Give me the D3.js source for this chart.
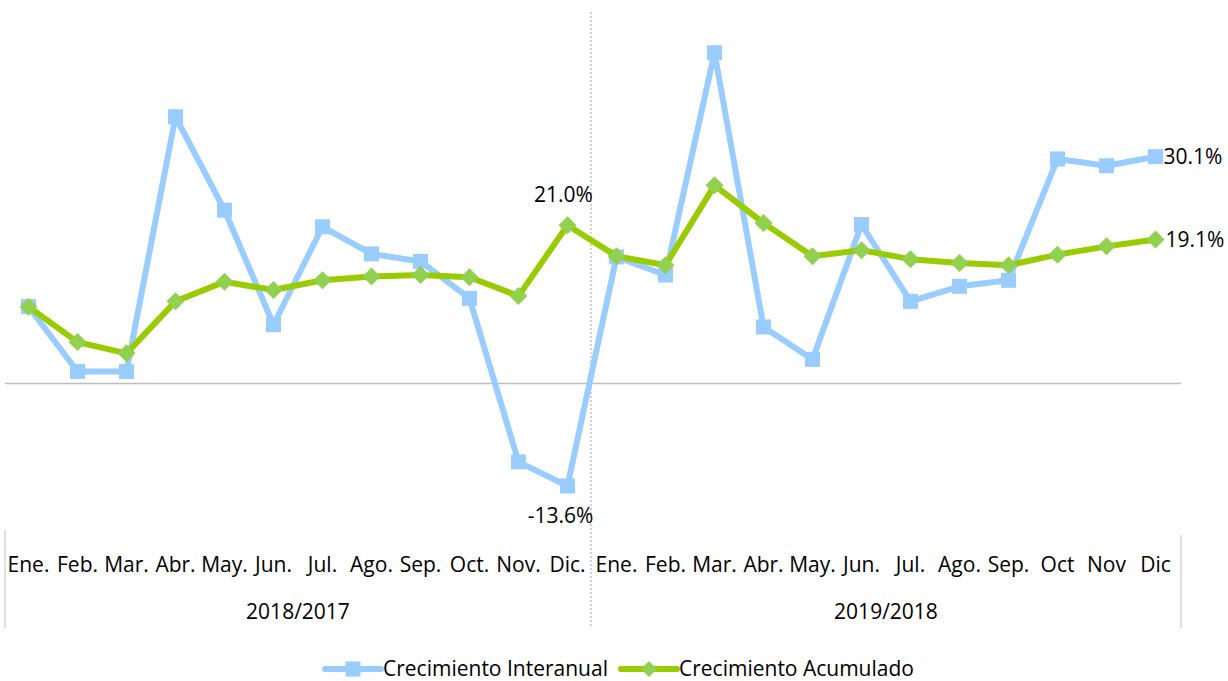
<!DOCTYPE html>
<html>
<head>
<meta charset="utf-8">
<script src="https://cdn.jsdelivr.net/npm/d3@7"></script>
<style>
    html, body { margin: 0; padding: 0; background: #fff; }
    svg { display: block; font-family: "Open Sans", Lato, sans-serif; }
    .zero { stroke: #bfbfbf; stroke-width: 1.5; }
    .sep { stroke: #bfbfbf; stroke-width: 1; }
    .sep-dash { stroke: #a6a6a6; stroke-width: 1; stroke-dasharray: 2, 2; }
    .cat { font-size: 21px; fill: #000; }
    .lbl { font-size: 21px; fill: #000; }
    .leg { font-size: 21px; fill: #000; }
</style>
</head>
<body>
<div id="chart"></div>
<script>
(function (d3) {
    'use strict';

    var months = ['Ene.', 'Feb.', 'Mar.', 'Abr.', 'May.', 'Jun.', 'Jul.', 'Ago.', 'Sep.', 'Oct.', 'Nov.', 'Dic.',
                  'Ene.', 'Feb.', 'Mar.', 'Abr.', 'May.', 'Jun.', 'Jul.', 'Ago.', 'Sep.', 'Oct', 'Nov', 'Dic'];
    var groups = ['2018/2017', '2019/2018'];
    var interanual = [10.2, 1.6, 1.6, 35.4, 23.0, 7.8, 20.8, 17.2, 16.2, 11.3, -10.4, -13.6,
                      16.8, 14.4, 43.9, 7.5, 3.2, 21.1, 10.9, 12.9, 13.7, 29.8, 28.9, 30.1];
    var acumulado = [10.2, 5.5, 4.0, 10.9, 13.5, 12.4, 13.7, 14.2, 14.4, 14.1, 11.6, 21.0,
                     16.9, 15.7, 26.3, 21.3, 16.9, 17.7, 16.5, 16.0, 15.7, 17.1, 18.2, 19.1];
    var seriesNames = ['Crecimiento Interanual', 'Crecimiento Acumulado'];

    var width = 1228, height = 681;
    var blue = '#99ccff', green = '#99cc00', greenMark = '#92d050';

    var svg = d3.select('#chart').append('svg')
        .attr('width', width)
        .attr('height', height)
    ;

    var keys = months.map(function (m, i) { return i; });

    var x = d3.scaleBand()
        .domain(keys)
        .range([4, 1180])
        .padding(0)
    ;

    // 0% sits at 383.5px, about 7.535px per point
    var y = d3.scaleLinear()
        .domain([-20, 50])
        .range([383.5 + 20 * 7.535, 383.5 - 50 * 7.535])
    ;

    var cx = function (d, i) { return x(i) + x.bandwidth() / 2; };

    // zero line
    svg.append('line')
        .attr('class', 'zero')
        .attr('x1', x.range()[0] + 1).attr('x2', x.range()[1] + 1)
        .attr('y1', y(0)).attr('y2', y(0))
    ;

    // dashed divider between the two years
    var mid = x(12);
    svg.append('line')
        .attr('class', 'sep-dash')
        .attr('x1', mid - 1).attr('x2', mid - 1)
        .attr('y1', 12).attr('y2', 628)
    ;

    // category table under the plot
    svg.append('line').attr('class', 'sep')
        .attr('x1', x.range()[0] + 1).attr('x2', x.range()[0] + 1)
        .attr('y1', 530).attr('y2', 628);
    svg.append('line').attr('class', 'sep')
        .attr('x1', x.range()[1] + 1).attr('x2', x.range()[1] + 1)
        .attr('y1', 535).attr('y2', 628);

    svg.append('g').selectAll('text')
        .data(months)
        .join('text')
        .attr('class', 'cat')
        .attr('x', cx)
        .attr('y', 565)
        .attr('dy', '0.35em')
        .attr('text-anchor', 'middle')
        .text(function (d) { return d; })
    ;

    svg.append('g').selectAll('text')
        .data(groups)
        .join('text')
        .attr('class', 'cat')
        .attr('x', function (d, i) { return x(i * 12) + x.bandwidth() * 6; })
        .attr('y', 612)
        .attr('dy', '0.35em')
        .attr('text-anchor', 'middle')
        .text(function (d) { return d; })
    ;

    var line = d3.line()
        .x(cx)
        .y(function (d) { return y(d); })
    ;

    // blue series with squares
    svg.append('path')
        .datum(interanual)
        .attr('fill', 'none')
        .attr('stroke', blue)
        .attr('stroke-width', 6)
        .attr('stroke-linejoin', 'round')
        .attr('d', line)
    ;
    svg.append('g').selectAll('rect')
        .data(interanual)
        .join('rect')
        .attr('x', function (d, i) { return cx(d, i) - 7.5; })
        .attr('y', function (d) { return y(d) - 7.5; })
        .attr('width', 15)
        .attr('height', 15)
        .attr('fill', blue)
    ;

    // green series with diamonds
    svg.append('path')
        .datum(acumulado)
        .attr('fill', 'none')
        .attr('stroke', green)
        .attr('stroke-width', 6)
        .attr('stroke-linejoin', 'round')
        .attr('d', line)
    ;
    svg.append('g').selectAll('path')
        .data(acumulado)
        .join('path')
        .attr('d', diamond(9))
        .attr('transform', function (d, i) { return translate(cx(d, i), y(d)); })
        .attr('fill', greenMark)
    ;

    // data labels
    var fmt = function (v) { return v.toFixed(1) + '%'; };
    var last = months.length - 1;

    svg.append('text').attr('class', 'lbl')
        .attr('x', cx(null, 11) - 4).attr('y', y(acumulado[11]) - 31).attr('dy', '0.35em')
        .attr('text-anchor', 'middle').text(fmt(acumulado[11]));
    svg.append('text').attr('class', 'lbl')
        .attr('x', cx(null, 11) - 7).attr('y', y(interanual[11]) + 30).attr('dy', '0.35em')
        .attr('text-anchor', 'middle').text(fmt(interanual[11]));
    svg.append('text').attr('class', 'lbl')
        .attr('x', cx(null, last) + 8).attr('y', y(interanual[last])).attr('dy', '0.35em')
        .attr('text-anchor', 'start').text(fmt(interanual[last]));
    svg.append('text').attr('class', 'lbl')
        .attr('x', cx(null, last) + 10).attr('y', y(acumulado[last])).attr('dy', '0.35em')
        .attr('text-anchor', 'start').text(fmt(acumulado[last]));

    // legend
    var legend = svg.append('g').attr('transform', translate(0, 669));
    var items = [
        {name: seriesNames[0], color: blue, x: 325, mark: 'square'},
        {name: seriesNames[1], color: green, x: 621, mark: 'diamond'}
    ];
    items.forEach(function (it) {
        var g = legend.append('g').attr('transform', translate(it.x, 0));
        g.append('line')
            .attr('x1', 0).attr('x2', 56).attr('y1', 0).attr('y2', 0)
            .attr('stroke', it.color).attr('stroke-width', 6).attr('stroke-linecap', 'round');
        if (it.mark === 'square') {
            g.append('rect').attr('x', 20.5).attr('y', -7.5).attr('width', 15).attr('height', 15).attr('fill', it.color);
        } else {
            g.append('path').attr('d', diamond(8)).attr('transform', translate(28, 0)).attr('fill', greenMark);
        }
        g.append('text').attr('class', 'leg')
            .attr('x', 58).attr('y', 0).attr('dy', '0.35em').text(it.name);
    });

    function diamond(r) {
        return 'M0,' + (-r) + 'L' + r + ',0L0,' + r + 'L' + (-r) + ',0Z';
    }

    function translate(a, b) {
        return 'translate(' + a + ', ' + b + ')';
    }

})(d3);
</script>
</body>
</html>
